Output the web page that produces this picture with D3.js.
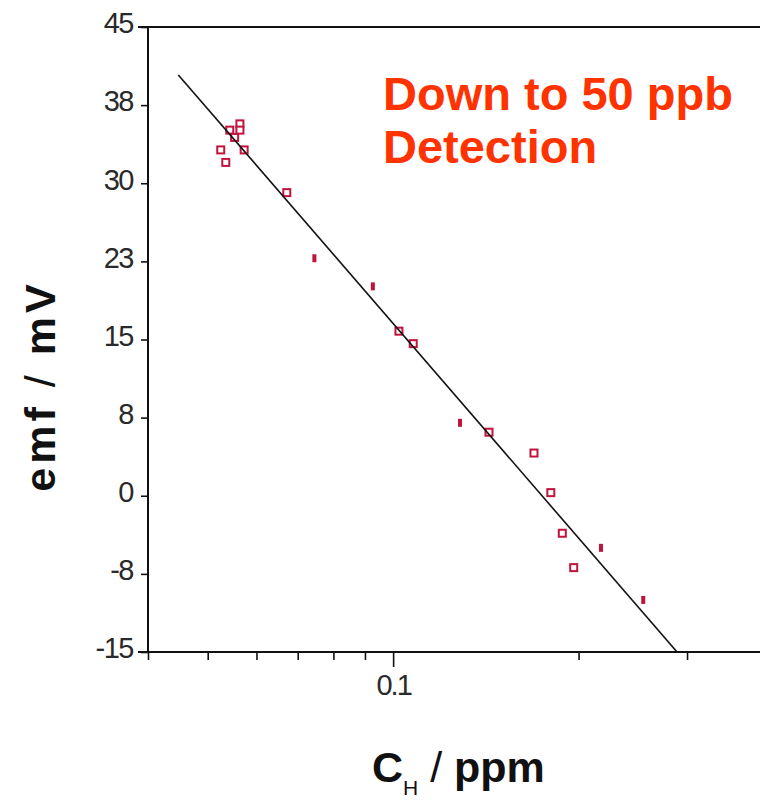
<!DOCTYPE html>
<html>
<head>
<meta charset="utf-8">
<script src="https://cdn.jsdelivr.net/npm/d3@7"></script>
<style>
  html, body { margin: 0; padding: 0; background: #fff; }
  svg { display: block; }
</style>
</head>
<body>
<svg id="chart" width="760" height="800"></svg>
<script>
// ---- data ----
// open square markers: concentration (ppm), emf (mV)
const openC   = [0.0543, 0.0553, 0.0564, 0.0564, 0.0525, 0.0535, 0.0573, 0.0672, 0.1022, 0.1078, 0.1431, 0.1693, 0.1803, 0.1882, 0.1964];
const openE   = [35.1,   34.4,   35.7,   35.1,   33.2,   32.0,   33.2,   29.1,   15.8,   14.6,   6.1,    4.1,    0.3,    -3.6,   -6.9];
// small filled markers
const fillC   = [0.0745, 0.0927, 0.1284, 0.2175, 0.2547];
const fillE   = [22.8,   20.1,   7.0,    -5.0,   -10.0];
// fitted line end points
const fitC    = [0.0448, 0.289];
const fitE    = [40.4,   -15.0];
// axis ticks
const yTicks      = [45, 37.5, 30, 22.5, 15, 7.5, 0, -7.5, -15];
const yTickLabels = ["45", "38", "30", "23", "15", "8", "0", "-8", "-15"];
const xTicks      = [0.04, 0.05, 0.06, 0.07, 0.08, 0.09, 0.1, 0.2, 0.3];
const xMajor      = [0.1];
const xTickLabels = ["0.1"];
const annotation  = ["Down to 50 ppb", "Detection"];

(function () {
// ---- layout ----
const svg = d3.select("#chart");
const mLeft = 148, mTop = 27, mBottom = 652;
const x = d3.scaleLog().domain([0.04, 0.4]).range([mLeft, mLeft + 616]);
const y = d3.scaleLinear().domain([-15, 45]).range([mBottom, mTop]);
const markColor = "#c0143c";
const font = "'Liberation Sans', Arial, sans-serif";

// y axis
const yAxis = d3.axisLeft(y).tickValues(yTicks)
  .tickFormat((d, i) => yTickLabels[i]).tickSize(7).tickPadding(8);
const gy = svg.append("g").attr("transform", `translate(${mLeft},0)`).call(yAxis);
gy.select(".domain").remove();
gy.selectAll(".tick line").attr("stroke", "#111").attr("stroke-width", 1.6);
gy.selectAll(".tick text")
  .attr("font-family", font)
  .attr("font-size", 29).attr("fill", "#2a2a2a").attr("dy", "0.2em")
  .attr("letter-spacing", -1.5);

// x axis
const xAxis = d3.axisBottom(x).tickValues(xTicks)
  .tickFormat(d => (xMajor.includes(d) ? xTickLabels[xMajor.indexOf(d)] : ""))
  .tickSize(8).tickPadding(14);
const gx = svg.append("g").attr("transform", `translate(0,${mBottom})`).call(xAxis);
gx.select(".domain").remove();
gx.selectAll(".tick line").attr("stroke", "#111").attr("stroke-width", 1.6)
  .attr("y2", d => xMajor.includes(d) ? 15 : 8);
gx.selectAll(".tick text")
  .attr("font-family", font)
  .attr("font-size", 29).attr("fill", "#2a2a2a").attr("letter-spacing", -2);

// frame lines (left, bottom, top)
svg.append("line").attr("x1", mLeft).attr("x2", mLeft).attr("y1", mTop).attr("y2", mBottom)
  .attr("stroke", "#111").attr("stroke-width", 2);
svg.append("line").attr("x1", mLeft - 10).attr("x2", 760).attr("y1", mBottom).attr("y2", mBottom)
  .attr("stroke", "#111").attr("stroke-width", 2);
svg.append("line").attr("x1", mLeft - 10).attr("x2", 760).attr("y1", mTop).attr("y2", mTop)
  .attr("stroke", "#111").attr("stroke-width", 2);

// markers
const openPts = openC.map((c, i) => ({ c, e: openE[i] }));
const fillPts = fillC.map((c, i) => ({ c, e: fillE[i] }));
svg.append("g").selectAll("rect").data(openPts).join("rect")
  .attr("x", d => x(d.c) - 3.5).attr("y", d => y(d.e) - 3.5)
  .attr("width", 7).attr("height", 7)
  .attr("fill", "#fff").attr("stroke", markColor).attr("stroke-width", 2);
svg.append("g").selectAll("rect").data(fillPts).join("rect")
  .attr("x", d => x(d.c) - 2).attr("y", d => y(d.e) - 4)
  .attr("width", 4).attr("height", 8)
  .attr("fill", markColor);

// fitted line
const fit = fitC.map((c, i) => ({ c, e: fitE[i] }));
svg.append("path").datum(fit)
  .attr("d", d3.line().x(d => x(d.c)).y(d => y(d.e)))
  .attr("fill", "none").attr("stroke", "#111").attr("stroke-width", 1.6);

// annotation
svg.append("g").selectAll("text").data(annotation).join("text")
  .attr("x", 383).attr("y", (d, i) => 110 + i * 53)
  .attr("font-family", font)
  .attr("font-weight", "bold").attr("font-size", 47)
  .attr("fill", "#ff3300").text(d => d);

// y title
const yt = svg.append("text")
  .attr("transform", "translate(55,386) rotate(-90)")
  .attr("text-anchor", "middle")
  .attr("font-family", font)
  .attr("font-weight", "bold").attr("font-size", 43)
  .attr("letter-spacing", 4)
  .attr("fill", "#111");
yt.append("tspan").text("emf ");
yt.append("tspan").attr("font-weight", "normal").text("/");
yt.append("tspan").text(" mV");

// x title
const xt = svg.append("text").attr("x", 372).attr("y", 782)
  .attr("font-family", font)
  .attr("font-weight", "bold").attr("font-size", 43).attr("fill", "#111");
xt.append("tspan").text("C");
xt.append("tspan").attr("font-size", 21).attr("font-weight", "normal").attr("dy", 13).text("H");
xt.append("tspan").attr("dy", -13).text(" ");
xt.append("tspan").attr("font-weight", "normal").text("/");
xt.append("tspan").text(" ppm");
})();
</script>
</body>
</html>
